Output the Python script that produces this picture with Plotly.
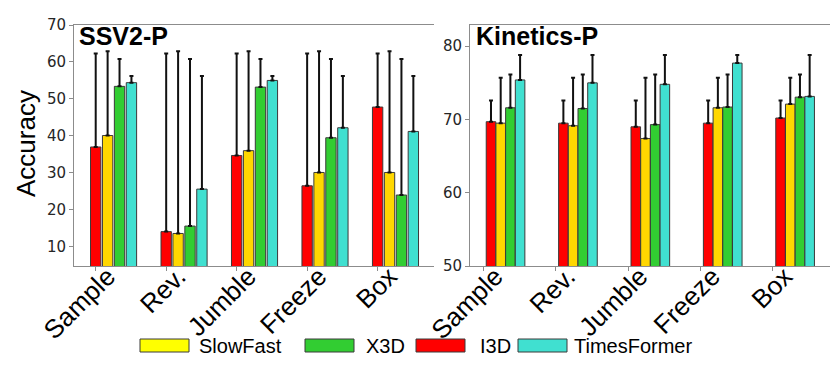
import plotly.graph_objects as go

# ── data ──
CATEGORIES = ["Sample", "Rev.", "Jumble", "Freeze", "Box"]
MODELS = ["I3D", "SlowFast", "X3D", "TimesFormer"]

SSV2_I3D = [37.0, 14.1, 34.7, 26.5, 47.8]
SSV2_SLOWFAST = [40.1, 13.6, 36.0, 30.1, 30.1]
SSV2_X3D = [53.4, 15.6, 53.2, 39.5, 24.0]
SSV2_TIMESFORMER = [54.4, 25.6, 55.0, 42.2, 41.2]
SSV2_UPPER = [62.3, 62.9, 60.8, 56.2]   # top of error bar per model

KIN_I3D = [69.7, 69.5, 69.0, 69.5, 70.2]
KIN_SLOWFAST = [69.5, 69.15, 67.4, 71.6, 72.1]
KIN_X3D = [71.6, 71.5, 69.3, 71.7, 73.05]
KIN_TIMESFORMER = [75.4, 75.0, 74.8, 77.7, 73.15]
KIN_UPPER = [72.6, 75.7, 76.15, 78.8]

COLORS = {
    "I3D": "#ff0000",
    "SlowFast": "#ffd700",
    "X3D": "#32cd32",
    "TimesFormer": "#40e0d0",
}
LEGEND_COLORS = {"SlowFast": "#ffff00", "X3D": "#32cd32", "I3D": "#ff0000", "TimesFormer": "#40e0d0"}

W, H = 830, 371
ML, MR, MT, MB = 74, 0, 25, 105
PW = W - ML - MR
PH = H - MT - MB
SPINE = "#8c8c8c"


def px_x(x):
    return (x - ML) / PW


def px_y(y):
    return 1 - (y - MT) / PH


fig = go.Figure()

panels = [
    dict(xa="x", ya="y",
         series=[SSV2_I3D, SSV2_SLOWFAST, SSV2_X3D, SSV2_TIMESFORMER],
         upper=SSV2_UPPER, offset=0.0, pitch=0.169, width=0.147),
    dict(xa="x2", ya="y2",
         series=[KIN_I3D, KIN_SLOWFAST, KIN_X3D, KIN_TIMESFORMER],
         upper=KIN_UPPER, offset=0.106, pitch=0.134, width=0.132),
]

for p in panels:
    for k, (model, vals) in enumerate(zip(MODELS, p["series"])):
        fig.add_trace(go.Bar(
            x=[i + p["offset"] + k * p["pitch"] for i in range(len(CATEGORIES))],
            y=vals,
            width=p["width"],
            marker=dict(color=COLORS[model], line=dict(color="#3a3a3a", width=1)),
            error_y=dict(
                type="data", symmetric=False,
                array=[p["upper"][k] - v for v in vals],
                arrayminus=[0] * len(vals),
                color="#111111", thickness=2, width=2,
            ),
            name=model, showlegend=False,
            xaxis=p["xa"], yaxis=p["ya"],
        ))

tickfont = dict(family="DejaVu Sans", size=15, color="#262626")
xtickfont = dict(family="Liberation Sans, Arial", size=26, color="#000000")

common_x = dict(
    tickvals=list(range(len(CATEGORIES))), ticktext=CATEGORIES,
    tickangle=-45, tickfont=xtickfont,
    ticklabelshift=12, ticklabelstandoff=-20,
    showline=True, linecolor=SPINE, linewidth=1, mirror=True,
    ticks="outside", ticklen=4, tickcolor=SPINE,
    showgrid=False, zeroline=False, automargin=False,
)
common_y = dict(
    dtick=10, tickfont=tickfont,
    showline=True, linecolor=SPINE, linewidth=1,
    ticks="outside", ticklen=4, tickcolor=SPINE,
    showgrid=False, zeroline=False, automargin=False,
)

fig.update_layout(
    width=W, height=H,
    margin=dict(l=ML, r=MR, t=MT, b=MB),
    paper_bgcolor="white", plot_bgcolor="white",
    barmode="overlay",
    showlegend=False,
    xaxis=dict(domain=[0, 360 / PW], range=[-0.308, 4.8], **common_x),
    yaxis=dict(domain=[0, 1], range=[4.8, 70], tick0=10, **common_y),
    xaxis2=dict(domain=[(470 - ML) / PW, 1], range=[-0.184, 4.789], anchor="y2", **common_x),
    yaxis2=dict(domain=[0, 1], range=[50, 82.9], anchor="x2", **common_y),
)

# panel titles
for text, x in [("SSV2-P", 77), ("Kinetics-P", 474)]:
    fig.add_annotation(
        text=f"<b>{text}</b>", xref="paper", yref="paper",
        x=px_x(x), y=px_y(36), xanchor="left", yanchor="middle",
        showarrow=False, font=dict(family="Liberation Sans, Arial", size=25, color="#000"),
    )

# y axis label
fig.add_annotation(
    text="Accuracy", xref="paper", yref="paper",
    x=px_x(26), y=px_y(144), xanchor="center", yanchor="middle",
    textangle=-90, showarrow=False,
    font=dict(family="Liberation Sans, Arial", size=26, color="#000"),
)

# legend (drawn by hand to get the wide swatches)
legend_items = [("SlowFast", 140, 199), ("X3D", 305, 366), ("I3D", 416, 480), ("TimesFormer", 518, 574)]
for name, sx, tx in legend_items:
    fig.add_shape(
        type="rect", xref="paper", yref="paper",
        x0=px_x(sx), x1=px_x(sx + 49), y0=px_y(352), y1=px_y(339),
        fillcolor=LEGEND_COLORS[name], line=dict(color="#3a3a3a", width=1),
    )
    fig.add_annotation(
        text=name, xref="paper", yref="paper",
        x=px_x(tx - 2), y=px_y(345.5), xanchor="left", yanchor="middle",
        showarrow=False, font=dict(family="Liberation Sans, Arial", size=20, color="#000"),
    )

fig.write_html(
    "out.html",
    config={"displayModeBar": False},
    post_script="document.body.style.margin = '0';",
)
